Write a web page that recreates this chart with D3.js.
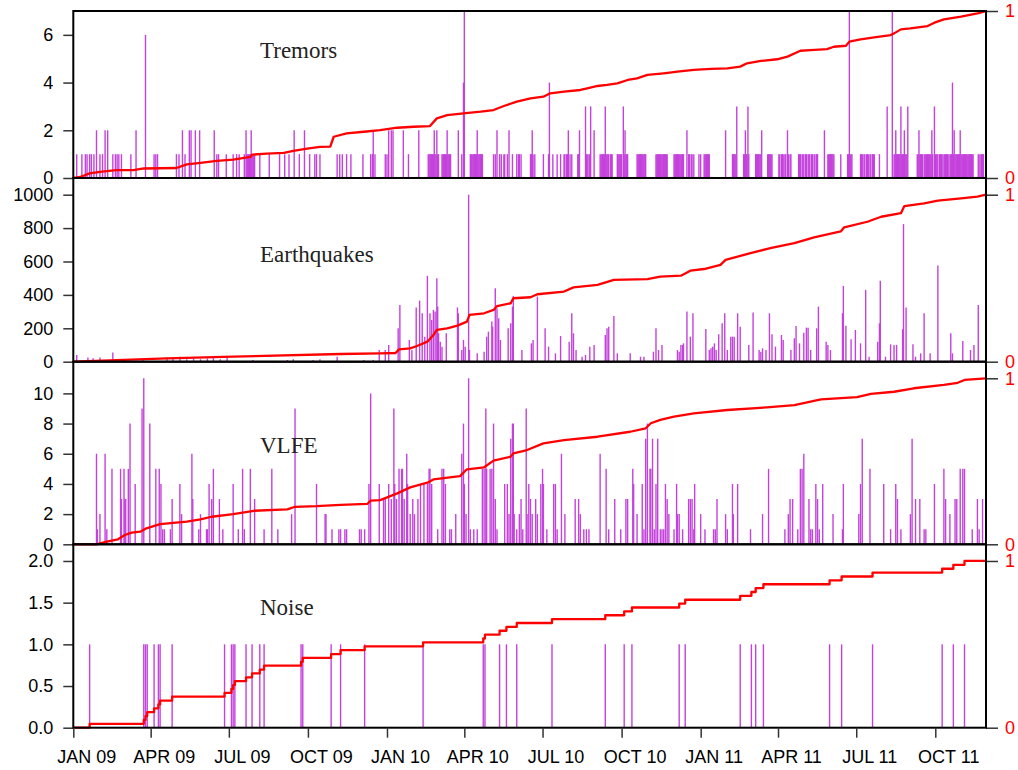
<!DOCTYPE html>
<html>
<head>
<meta charset="utf-8">
<script src="https://cdn.jsdelivr.net/npm/d3@7"></script>
<style>
  body { margin: 0; background: #fff; }
  svg { display: block; }
</style>
</head>
<body>
<svg id="chart"></svg>
<script>
// days are counted from 1 Jan 2009
const tremorCounts = [
  [4,1],[10,1],[14,1],[16,1],[19,1],[21,1],[24,1],[27,2],[31,1],[34,1],[37,2],[40,2],[46,1],[49,1],[51,1],[53,1],[56,1],[67,1],[73,2],[84,6],
  [94,1],[96,1],[98,1],[120,1],[123,1],[127,2],[130,1],[135,2],[137,2],[142,2],[147,2],[164,2],[167,1],[169,1],[178,1],[186,1],[190,1],[193,1],
  [199,1],[201,2],[202,1],[203,1],[204,1],[205,1],[206,1],[207,2],[208,1],[209,1],[210,1],[211,1],[217,1],[228,1],[240,1],[246,1],[251,1],
  [257,2],[263,1],[269,2],[275,1],[281,1],[283,1],[287,1],[307,1],
  [310,1],[313,1],[318,1],[323,1],[337,1],[346,1],[348,1],[349,2],[351,1],[363,1],[365,1],[367,2],[370,2],[372,2],[384,2],[390,1],[402,2],
  [413,1],[414,1],[415,1],[416,1],[417,1],[418,1],[419,1],[420,2],[421,1],[422,1],[423,2],[424,1],[425,1],
  [429,1],[430,1],[431,1],[432,1],[433,1],[434,1],[435,2],[436,1],[437,1],[438,1],[439,1],
  [448,2],[452,1],[454,4],[455,7],
  [462,1],[463,1],[464,1],[465,1],[466,1],[467,1],[468,1],[469,1],[470,2],[471,1],[472,1],[473,1],[474,1],[475,1],[476,1],
  [489,1],[491,1],[493,2],[496,1],[498,1],[501,1],[502,1],[505,1],[507,2],[511,1],[516,1],[518,1],[519,1],[521,1],
  [532,1],[533,1],[534,2],[535,1],[537,1],[547,1],[553,1],[554,4],[558,1],[563,1],[567,1],[571,1],[572,1],[574,1],[575,1],[576,2],
  [578,1],[580,1],[587,1],[588,1],[589,2],[596,3],[597,1],[598,1],[600,1],[601,1],[602,3],[606,2],
  [613,1],[614,1],[615,1],[616,1],[617,1],[618,1],[619,3],[620,1],[621,1],[622,1],[623,1],[625,1],[626,1],[627,1],
  [633,1],[634,1],[635,1],[636,1],[637,1],[638,1],[640,3],[641,1],[642,2],[643,1],[644,1],[645,1],
  [656,1],[657,1],[658,1],[659,1],[660,1],[661,1],[662,1],[663,1],[664,1],[665,1],[666,1],
  [678,1],[679,1],[680,1],[681,1],[682,1],[683,1],[684,1],[685,1],[686,1],[687,1],[688,1],[689,1],[690,1],[691,1],
  [699,1],[700,1],[701,1],[702,1],[703,1],[704,1],[705,1],[706,1],[707,1],[708,1],[709,1],[710,1],
  [714,2],[716,1],[717,1],[719,1],[720,1],[722,1],[728,1],[730,1],[734,1],[735,1],[736,1],[737,1],[738,1],[739,1],[740,1],
  [759,2],[767,1],[768,1],[769,1],[770,1],[771,1],[772,3],[780,1],[781,1],[782,2],[783,1],[784,1],[785,3],[786,1],
  [794,1],[795,1],[796,1],[797,1],[798,1],[799,1],[800,1],[801,2],[808,1],[809,1],[810,1],[811,1],[812,1],[813,1],
  [821,1],[822,1],[824,1],[825,1],[826,1],[828,1],[829,1],[831,2],[832,1],[834,1],[835,1],
  [844,1],[845,1],[846,1],[848,1],[849,1],[850,1],[852,1],[853,1],[855,1],[856,1],[857,1],[859,1],[860,1],[862,1],[863,1],[865,1],[866,1],
  [874,2],[878,1],[879,1],[880,1],[881,1],[882,1],[883,1],[884,1],[885,1],[893,1],
  [901,1],[902,1],[903,7],[904,1],[905,1],[906,1],
  [916,1],[917,1],[918,1],[920,1],[921,1],[923,1],[924,1],[925,1],[927,1],[928,1],[930,1],[931,1],[932,1],
  [938,1],[947,3],[953,7],
  [955,1],[956,1],[957,2],[958,1],[959,1],[960,1],[961,1],[962,1],[963,3],[964,1],[965,1],[966,1],[967,2],[968,1],[969,1],[970,1],[971,3],
  [982,1],[983,1],[984,2],[985,1],[986,1],[987,1],[988,1],[990,1],[991,1],[992,1],[993,1],[994,1],
  [995,1],[996,1],[997,1],[998,1],[999,2],[1000,1],[1002,3],[1003,1],[1004,1],[1005,1],[1006,1],[1008,1],[1009,1],[1010,1],[1011,1],
  [1013,1],[1014,1],[1015,1],[1016,1],[1017,1],[1018,1],[1020,1],
  [1021,1],[1022,1],[1023,4],[1024,1],[1025,2],[1026,1],[1027,1],[1028,1],[1029,1],[1030,1],[1031,1],[1032,2],[1033,1],[1034,1],
  [1035,1],[1036,1],[1037,1],[1038,1],[1039,1],[1040,1],[1041,1],[1042,1],[1043,1],[1044,1],[1045,1],[1046,1],[1047,1],
  [1053,1],[1054,1],[1056,1],[1057,1],[1058,1],[1059,1]
]
// cumulative fraction
const tremorCumulative = [
  [0,0],[8,0.006],[19,0.028],[31,0.037],[50,0.047],[70,0.047],[82,0.057],[120,0.06],[132,0.082],[148,0.09],[167,0.102],
  [186,0.11],[206,0.126],[208,0.14],[225,0.146],[245,0.15],[256,0.162],[272,0.176],[287,0.186],[299,0.188],[303,0.247],
  [318,0.267],[338,0.277],[357,0.287],[377,0.301],[396,0.307],[415,0.311],[423,0.357],[435,0.377],[454,0.387],[474,0.397],
  [489,0.407],[501,0.431],[516,0.457],[532,0.477],[547,0.487],[555,0.507],[571,0.517],[590,0.527],[598,0.537],[610,0.551],
  [621,0.557],[633,0.567],[645,0.587],[656,0.597],[668,0.617],[687,0.627],[703,0.637],[722,0.647],[742,0.653],[761,0.657],
  [776,0.667],[784,0.687],[800,0.701],[819,0.711],[831,0.727],[846,0.762],[858,0.766],[877,0.772],[885,0.786],[899,0.792],
  [903,0.816],[916,0.83],[932,0.842],[951,0.856],[955,0.866],[963,0.89],[974,0.896],[994,0.91],[1002,0.93],[1013,0.95],
  [1033,0.966],[1052,0.986],[1063,1]
]

const quakeCounts = [
  [4,40],[17,25],[23,20],[31,25],[46,55],[81,10],[109,25],[116,20],[124,30],[132,15],[140,20],[148,15],[156,20],[163,25],
  [171,15],[179,25],[209,10],[249,10],[256,15],[279,10],[287,15],[307,30],[338,10],[349,10],[356,70],[363,70],[367,100],
  [378,200],[380,340],[391,130],[394,70],[399,325],[403,366],[406,290],[409,150],[412,514],[415,290],[417,250],[419,310],
  [421,300],[423,500],[424,330],[425,170],[427,120],[429,90],[434,170],[447,325],[448,290],[452,70],[454,130],[456,90],
  [460,1000],[461,70],[470,50],[478,60],[481,150],[483,180],[487,240],[488,210],[491,440],[493,320],[495,260],[497,130],
  [506,200],[509,230],[511,330],[512,394],[522,70],[533,110],[535,130],[540,390],[549,200],[553,90],[561,50],[567,154],
  [577,120],[580,290],[582,170],[585,70],[592,30],[596,40],[601,90],[606,100],[619,160],[621,200],[623,210],[629,274],
  [633,50],[648,50],[660,30],[664,30],[675,60],[678,200],[681,70],[685,100],
  [703,70],[705,60],[707,100],[709,100],[710,110],[714,300],[718,150],[721,290],[736,196],[740,70],[742,80],[744,90],
  [746,110],[748,70],[751,164],[755,230],[758,290],[761,70],[765,150],[767,150],[769,150],[773,290],[776,210],[786,100],
  [791,294],[798,70],[800,60],[802,80],[806,70],[810,290],[813,164],[817,90],[824,160],[826,130],[835,70],[839,140],
  [841,214],[845,110],[850,174],[853,204],[855,204],[858,70],[865,200],[867,330],[876,120],[878,100],[881,70],[895,290],
  [896,454],[899,216],[905,134],[910,190],[916,110],[922,430],[926,30],[936,120],[938,230],[939,484],[945,30],[951,104],
  [955,100],[958,100],[965,194],[966,824],[969,324],[977,104],[980,30],[986,50],[990,290],[997,50],[1006,576],[1021,170],
  [1023,50],[1035,124],[1044,70],[1048,100],[1053,340]
]
const quakeCumulative = [
  [0,0],[109,0.02],[186,0.03],[311,0.046],[357,0.05],[375,0.052],[379,0.074],[392,0.08],[400,0.094],[412,0.12],[419,0.16],
  [423,0.19],[435,0.2],[447,0.216],[458,0.24],[461,0.28],[478,0.29],[489,0.31],[493,0.333],[509,0.35],[512,0.38],[532,0.386],
  [540,0.404],[571,0.42],[582,0.445],[610,0.46],[629,0.49],[668,0.495],[683,0.51],[707,0.515],[718,0.545],[734,0.555],
  [753,0.58],[759,0.61],[788,0.65],[811,0.68],[839,0.71],[862,0.745],[893,0.78],[897,0.805],[924,0.838],[940,0.868],
  [963,0.889],[967,0.932],[990,0.948],[1006,0.964],[1033,0.978],[1052,0.988],[1062,1]
]

const vlfeCounts = [
  [27,6],[28,1],[31,2],[37,6],[39,1],[45,5],[55,5],[56,3],[59,5],[60,3],[61,3],[64,5],[66,8],[72,4],[80,9],[82,11],[89,8],
  [96,5],[100,5],[102,4],[104,1],[106,1],[113,1],[115,3],[124,4],[126,2],[138,6],[139,3],[146,1],[148,2],[155,1],[156,1],
  [158,4],[161,3],[163,5],[170,3],[174,1],[186,4],[192,1],[197,5],[199,1],[206,5],[211,3],[222,1],[231,5],[238,1],[254,2],
  [258,9],[283,4],[293,2],[294,2],[301,1],[309,1],
  [311,1],[316,1],[318,1],[333,1],[335,1],[339,1],[344,4],[346,10],[356,4],[361,3],[363,3],[367,4],[370,3],[373,9],[374,4],
  [376,3],[379,5],[382,5],[383,5],[385,3],[388,6],[389,4],[392,2],[395,3],[397,2],[401,3],[404,4],[408,4],[412,4],[414,5],
  [415,5],[417,4],[424,1],[429,5],[431,5],[433,4],[438,1],[440,1],[445,2],[452,6],[454,8],[455,4],[457,2],[460,11],[462,1],
  [466,1],[470,1],[476,5],[478,5],[480,9],[481,5],[485,5],[487,5],[489,8],[491,3],[493,1],[502,4],[505,4],[507,2],[509,7],
  [511,8],[512,8],[513,2],[516,1],[519,2],[521,3],[523,1],[527,9],[528,2],[530,4],[532,3],[534,2],[538,3],[540,2],[544,4],
  [546,5],[547,4],[551,1],[559,4],[561,4],[563,1],[568,6],[572,2],[584,3],[588,3],[590,2],[594,1],[597,1],[600,1],[613,6],
  [620,5],[623,1],[630,3],[637,1],[643,3],[645,3],[651,5],[652,4],[656,2],[662,4],[664,1],[666,7],[668,8],[671,5],[672,5],
  [674,7],[676,1],[678,4],[680,7],[683,1],[685,1],[687,1],[689,4],[691,3],[693,2],
  [699,1],[702,4],[703,2],[705,2],[709,1],[716,3],[718,3],[720,3],[722,1],[723,4],[730,2],[735,1],[745,1],[747,1],[749,3],
  [759,2],[761,1],[767,4],[768,2],[773,4],[788,1],[802,2],[809,5],[828,1],[832,2],[834,3],[837,3],[843,1],[846,5],[848,5],
  [850,6],[856,3],[858,1],[860,1],[864,4],[866,3],[868,1],[872,4],[884,2],[895,1],[896,4],[914,2],[916,4],[918,7],[927,5],
  [943,4],[951,1],[957,4],[959,3],[963,1],[974,2],[976,7],[980,3],[985,3],[990,1],[992,1],[1002,4],[1013,5],[1015,3],
  [1020,2],[1026,3],[1028,3],[1032,5],[1035,5],[1037,5],[1046,1],[1052,3],[1054,1],[1058,3]
]
const vlfeCumulative = [
  [0,0],[27,0],[39,0.016],[52,0.03],[60,0.056],[68,0.07],[78,0.076],[85,0.096],[101,0.122],[132,0.136],[148,0.15],
  [161,0.166],[186,0.182],[210,0.202],[249,0.21],[258,0.226],[283,0.23],[311,0.238],[342,0.243],[346,0.263],[357,0.266],
  [377,0.307],[392,0.343],[412,0.371],[419,0.391],[450,0.411],[458,0.452],[478,0.464],[489,0.504],[509,0.528],[512,0.548],
  [528,0.568],[547,0.608],[571,0.628],[610,0.648],[648,0.678],[666,0.699],[672,0.729],[683,0.75],[699,0.769],[722,0.789],
  [761,0.809],[807,0.825],[839,0.839],[870,0.873],[912,0.886],[928,0.906],[955,0.919],[978,0.94],[1013,0.96],[1029,0.973],
  [1037,0.99],[1062,1]
]

// one noise event per listed day
const noiseDays = [
  19,82,84,86,94,99,101,115,176,184,186,188,201,208,217,222,265,267,300,311,339,407,477,479,496,504,516,557,619,641,650,
  705,712,776,789,794,803,880,894,930,1011,1024,1037
]

const tickDates = ['2009-01-01','2009-04-01','2009-07-01','2009-10-01','2010-01-01','2010-04-01','2010-07-01',
  '2010-10-01','2011-01-01','2011-04-01','2011-07-01','2011-10-01']
const tickLabels = ['JAN 09','APR 09','JUL 09','OCT 09','JAN 10','APR 10','JUL 10','OCT 10','JAN 11','APR 11','JUL 11','OCT 11']

// noise cumulative: step after each event
const noiseCounts = noiseDays.map(d => [d, 1])
const noiseCumulative = [[0, 0]]
  .concat(noiseDays.map((d, i) => [d, (i + 1) / noiseDays.length]))
  .concat([[1063, 1]])

const start = new Date(2009, 0, 1)
const dayDate = d => d3.timeDay.offset(start, d)

const panels = [
  { name: 'Tremors', counts: tremorCounts, cumul: tremorCumulative, top: 11, bottom: 178,
    yTop: 7, yMax: 7, ticks: [0, 2, 4, 6], fmt: d3.format('d'), titleY: 58, step: false },
  { name: 'Earthquakes', counts: quakeCounts, cumul: quakeCumulative, top: 178, bottom: 361.7,
    yTop: 1100, yMax: 1000, ticks: [0, 200, 400, 600, 800, 1000], fmt: d3.format('d'), titleY: 262, step: false },
  { name: 'VLFE', counts: vlfeCounts, cumul: vlfeCumulative, top: 361.7, bottom: 544.3,
    yTop: 12.1, yMax: 11, ticks: [0, 2, 4, 6, 8, 10], fmt: d3.format('d'), titleY: 453, step: false },
  { name: 'Noise', counts: noiseCounts, cumul: noiseCumulative, top: 544.3, bottom: 727.7,
    yTop: 2.2, yMax: 2, ticks: [0, 0.5, 1, 1.5, 2], fmt: d3.format('.1f'), titleY: 615, step: true }
]

const width = 1018
const height = 770
const left = 73.3
const right = 986

const svg = d3.select('#chart').attr('width', width).attr('height', height)

const x = d3.scaleTime()
  .domain([start, new Date(2011, 10, 29)])
  .range([left, right])

panels.forEach(p => {
  const y = d3.scaleLinear().domain([0, p.yTop]).range([p.bottom, p.top])
  const yr = d3.scaleLinear().domain([0, 1]).range([y(0), y(p.yMax)])
  const g = svg.append('g').attr('class', 'panel')

  // bars
  g.append('g')
    .selectAll('line')
    .data(p.counts)
    .join('line')
    .attr('x1', d => x(dayDate(d[0])))
    .attr('x2', d => x(dayDate(d[0])))
    .attr('y1', y(0))
    .attr('y2', d => y(d[1]))
    .attr('stroke', '#c442dc')
    .attr('stroke-width', 1.4)

  // cumulative curve
  const line = d3.line()
    .x(d => x(dayDate(d[0])))
    .y(d => yr(d[1]))
    .curve(p.step ? d3.curveStepAfter : d3.curveLinear)
  g.append('path')
    .datum(p.cumul)
    .attr('d', line)
    .attr('fill', 'none')
    .attr('stroke', '#ff0000')
    .attr('stroke-width', 2.3)
    .attr('stroke-linejoin', 'round')

  // left axis
  const ax = g.append('g')
    .attr('transform', `translate(${left},0)`)
    .call(d3.axisLeft(y).tickValues(p.ticks).tickFormat(p.fmt).tickSize(10).tickPadding(10))
  ax.select('.domain').remove()

  // right axis 0..1
  const axr = g.append('g')
    .attr('transform', `translate(${right},0)`)
    .call(d3.axisRight(yr).tickValues([0, 1]).tickFormat(d3.format('d')).tickSize(12).tickPadding(7))
  axr.select('.domain').remove()
  axr.selectAll('text').attr('fill', '#ff0000')

  // frame
  g.append('rect')
    .attr('x', left)
    .attr('y', p.top)
    .attr('width', right - left)
    .attr('height', p.bottom - p.top)
    .attr('fill', 'none')
    .attr('stroke', '#000')
    .attr('stroke-width', 2)

  g.append('text')
    .attr('class', 'title')
    .attr('x', 260)
    .attr('y', p.titleY)
    .text(p.name)
})

// time axis under the last panel
const axb = svg.append('g')
  .attr('transform', `translate(0,${panels[3].bottom})`)
  .call(d3.axisBottom(x)
    .tickValues(tickDates.map(d3.timeParse('%Y-%m-%d')))
    .tickFormat((d, i) => tickLabels[i])
    .tickSize(10)
    .tickPadding(13))
axb.select('.domain').remove()
// month labels sit a little to the right of their tick
axb.selectAll('text').attr('dx', 13)

svg.selectAll('.tick line').attr('stroke', '#333').attr('stroke-width', 1.5)
svg.selectAll('.tick text')
  .attr('font-family', '"Liberation Sans", Arial, sans-serif')
  .attr('font-size', 18)
svg.selectAll('.tick').filter(function () { return !d3.select(this).select('text').attr('fill') })
  .select('text').attr('fill', '#222')
svg.selectAll('.title')
  .attr('font-family', '"Liberation Serif", "Times New Roman", serif')
  .attr('font-size', 23)
  .attr('fill', '#222')
</script>
</body>
</html>
